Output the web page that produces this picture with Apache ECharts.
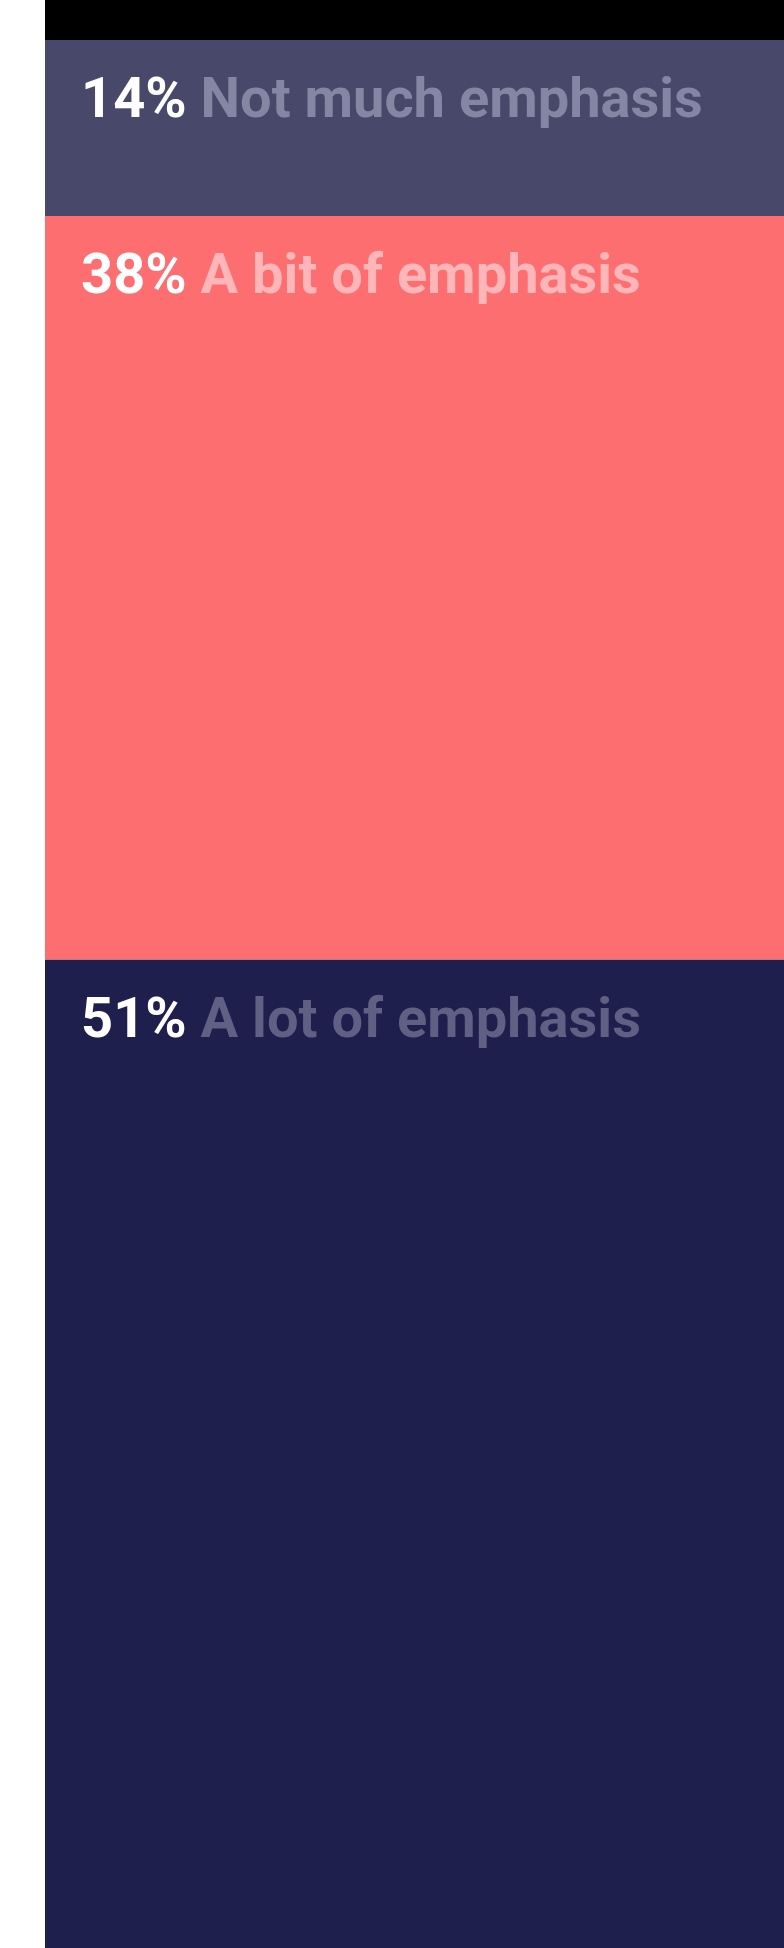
<!DOCTYPE html>
<html>
<head>
<meta charset="utf-8">
<style>
  html, body { margin: 0; padding: 0; background: #ffffff; }
  #chart { width: 784px; height: 1948px; }
</style>
<script src="https://cdn.jsdelivr.net/npm/echarts@6/dist/echarts.min.js"></script>
</head>
<body>
<div id="chart"></div>
<script>
// Share of respondents by level of emphasis, stacked top to bottom
const categories = ['Not much emphasis', 'A bit of emphasis', 'A lot of emphasis'];
const values = [14, 38, 51];
const barColors = ['#47486a', '#fd6e70', '#1f1f4d'];
const nameColors = ['#8586a3', '#feb6b8', '#5f6084'];

const FONT = 'Roboto, "Liberation Sans", Arial, sans-serif';
const FONT_SIZE = 56;

const chart = echarts.init(document.getElementById('chart'), null, { renderer: 'canvas' });

const series = categories.map((name, i) => ({
  name: name,
  type: 'bar',
  stack: 'total',
  barWidth: '100%',
  data: [values[i]],
  itemStyle: { color: barColors[i] },
  silent: true,
  label: {
    show: true,
    position: [36, 35],
    formatter: () => '{p|' + values[i] + '%}{n| ' + name + '}',
    rich: {
      p: { color: '#ffffff', fontSize: FONT_SIZE, fontWeight: 'bold', fontFamily: FONT, lineHeight: FONT_SIZE },
      n: { color: nameColors[i], fontSize: FONT_SIZE, fontWeight: 'bold', fontFamily: FONT, lineHeight: FONT_SIZE }
    }
  }
}));

chart.setOption({
  animation: false,
  backgroundColor: '#ffffff',
  grid: { left: 45, right: 0, top: 40, bottom: 0, containLabel: false },
  xAxis: { type: 'category', data: ['Emphasis'], show: false },
  yAxis: { type: 'value', inverse: true, min: 5, max: 102.5, show: false },
  graphic: [{
    type: 'rect',
    left: 45, top: 0,
    shape: { width: 739, height: 40 },
    style: { fill: '#000000' },
    silent: true
  }],
  series: series
});
</script>
</body>
</html>
